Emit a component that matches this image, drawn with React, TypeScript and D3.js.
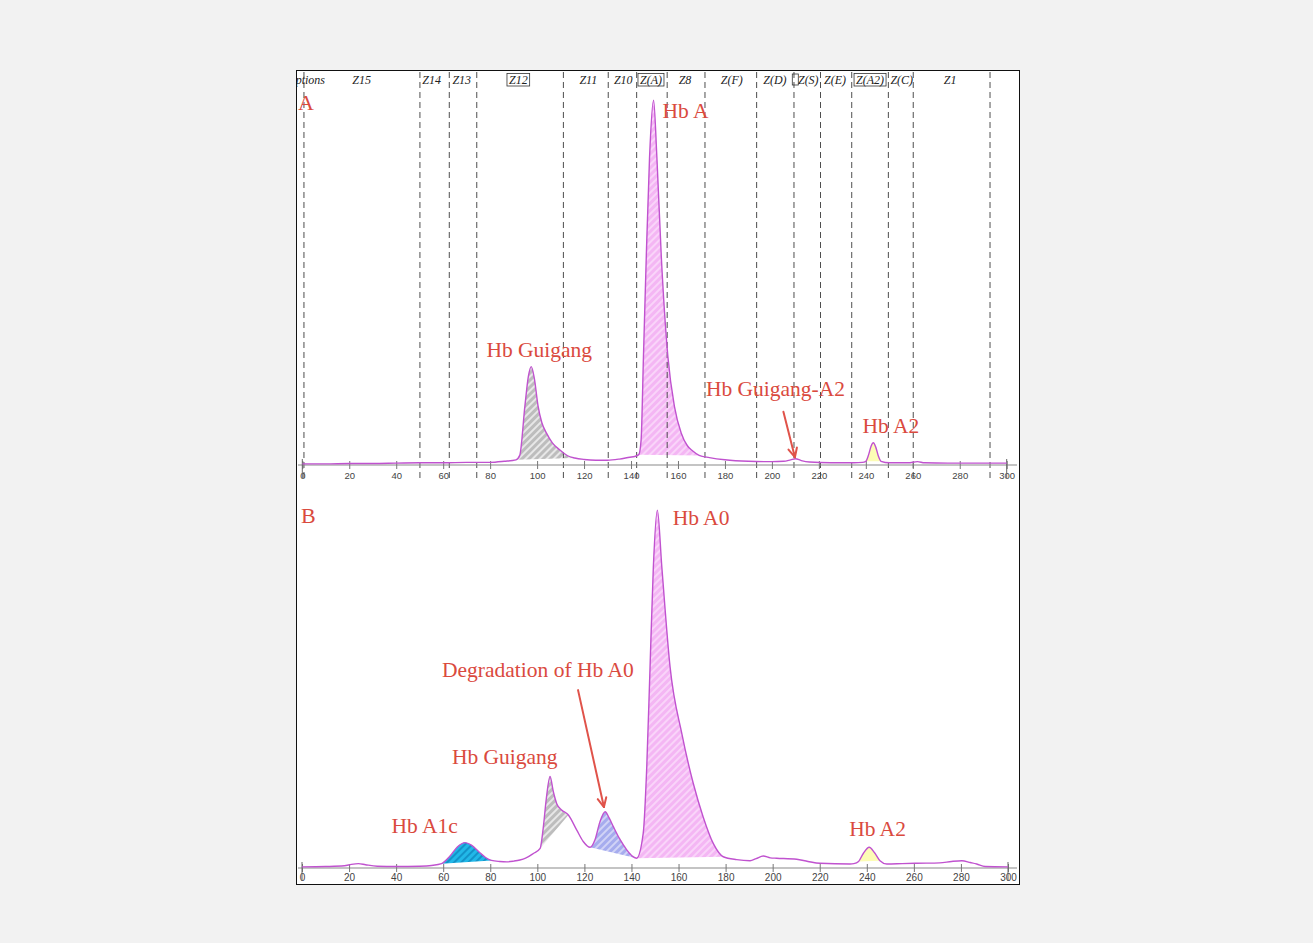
import * as d3 from 'd3';
import { useRef, useEffect } from 'react';

// Panel A: capillary electrophoresis trace (zone position vs. % of main peak)
const timeA = [0, 10, 20, 30, 40, 50, 60, 70, 80, 86, 91, 92.6, 94.8, 96.3, 97.5, 98.8, 100.4, 102, 104, 106.5,
  109.6, 113, 116, 120, 125, 130, 135, 139.5, 141.5, 143.3, 144.3, 145.3, 146.5, 147.9, 149.6, 151, 152.9, 155.7, 158.5, 161.4,
  164, 166.3, 169, 173.4, 180, 190, 200, 205, 208, 210, 212.5, 216, 225, 235, 238.5, 240, 241.2, 242.2, 243.2, 244.2,
  245.3, 246.5, 250, 258, 262, 265, 275, 290, 300];
const signalA = [0.3, 0.3, 0.4, 0.4, 0.5, 0.6, 0.6, 0.7, 0.7, 1.0, 1.4, 2.6, 15.9, 24, 26.6, 23.5, 16, 11.5, 8.6, 6,
  4.1, 2.5, 1.9, 1.5, 1.3, 1.3, 1.6, 2.1, 2.3, 2.8, 6.8, 29.3, 56.3, 83.3, 98.6, 83.3, 56.3, 29.3, 15.8, 8.6,
  5.2, 3.8, 2.6, 2.0, 1.4, 1.0, 0.9, 1.0, 1.4, 1.7, 1.2, 0.8, 0.6, 0.6, 0.7, 1.0, 2.8, 5.0, 6.0, 4.9,
  2.5, 1.0, 0.6, 0.6, 0.9, 0.6, 0.5, 0.5, 0.5];

// Panel B: HPLC trace
const timeB = [0, 10, 18, 21, 24, 27, 32, 40, 50, 55, 59.3, 62.9, 66, 69.3, 72, 75.6, 78, 80.5, 84, 87,
  90, 92.6, 95, 98.3, 101.2, 102.5, 103.8, 105.4, 106.8, 108.2, 110.3, 113.2, 116.7, 119.5, 122.4, 124.5, 126.5, 128.8, 130.5, 132.3,
  135, 138, 140.5, 142.2, 145, 146.5, 147.9, 149.3, 151, 152.9, 156.4, 161.4, 166.3, 170.5, 174.8, 179, 184.7, 190.4, 193, 196,
  199, 201.7, 210.2, 215, 220.1, 232.9, 234.5, 236.5, 238.5, 241, 243.3, 245.6, 248.5, 255, 261.2, 271, 276, 280.4, 284, 286.7,
  290.3, 300];
const signalB = [0.3, 0.4, 0.6, 1.0, 1.2, 0.9, 0.5, 0.4, 0.5, 0.7, 1.2, 3.3, 5.8, 7.0, 6.3, 4.2, 2.9, 2.1, 1.8, 1.7,
  1.9, 2.2, 2.7, 4.0, 5.4, 11, 19, 25.2, 21, 17.8, 16.0, 14.6, 10.5, 7.3, 5.7, 7.8, 12.5, 15.5, 13.8, 11.4,
  8, 5.0, 3.2, 2.7, 9.6, 27.9, 55.4, 82.9, 98.6, 82.9, 55.4, 37.0, 23.2, 14.0, 6.7, 3.1, 2.3, 2.0, 2.6, 3.3,
  2.8, 2.7, 2.4, 1.8, 1.3, 1.1, 1.2, 1.8, 4.0, 5.7, 4.2, 2.0, 1.1, 1.2, 1.3, 1.4, 1.8, 2.0, 1.5, 1.1,
  0.4, 0.3];

// integrated peaks (start / end of each shaded area)
const peakNamesA = ['Hb Guigang', 'Hb A', 'Hb A2'];
const peakFromA = [91, 143.3, 240];
const peakToA = [116, 169, 246.5];
const peakNamesB = ['Hb A1c', 'Hb Guigang', 'Degradation of Hb A0', 'Hb A0', 'Hb A2'];
const peakFromB = [59.3, 101.2, 122.4, 142.2, 236.5];
const peakToB = [80.5, 113.2, 142.2, 179, 245.6];

// electrophoresis zones of panel A
const zoneEdges = [0.7, 50.1, 62.6, 74.3, 111.2, 130.3, 142.4, 155.4, 171.5, 193.5, 209.4, 220.7, 234, 249.6, 260.2, 292.9];
const zoneNames = ['Z15', 'Z14', 'Z13', 'Z12', 'Z11', 'Z10', 'Z(A)', 'Z8', 'Z(F)', 'Z(D)', 'Z(S)', 'Z(E)', 'Z(A2)', 'Z(C)', 'Z1'];
const zoneCenters = [25.3, 55.1, 67.9, 92.0, 121.8, 136.7, 148.5, 163.0, 182.9, 201.3, 215.5, 226.9, 241.8, 255.3, 275.9];
const boxedZones = ['Z12', 'Z(A)', 'Z(A2)'];

const xTicks = [0, 20, 40, 60, 80, 100, 120, 140, 160, 180, 200, 220, 240, 260, 280, 300];

const fills = {
  'Hb Guigang': 'url(#hatch-gray)',
  'Hb A': 'url(#hatch-pink)',
  'Hb A0': 'url(#hatch-pink)',
  'Hb A2': '#fdfdb6',
  'Hb A1c': 'url(#hatch-cyan)',
  'Degradation of Hb A0': 'url(#hatch-blue)',
};

const serif = "'Liberation Serif', 'Times New Roman', serif";
const sans = "'Liberation Sans', Arial, sans-serif";
const red = '#da4a3e';
const trace = '#c052cf';

export default function App() {
  const ref = useRef(null);

  useEffect(() => {
    const svg = d3.select(ref.current);
    svg.selectAll('*').remove();

    const width = 1313;
    const height = 943;
    const frame = { x: 296.5, y: 70.5, w: 723, h: 814 };

    svg.append('rect').attr('width', width).attr('height', height).attr('fill', '#f2f2f2');
    svg.append('rect')
      .attr('x', frame.x).attr('y', frame.y).attr('width', frame.w).attr('height', frame.h)
      .attr('fill', '#fff').attr('stroke', '#111').attr('stroke-width', 1);

    const defs = svg.append('defs');
    defs.append('clipPath').attr('id', 'frame-clip')
      .append('rect').attr('x', frame.x + 0.5).attr('y', frame.y).attr('width', frame.w - 1).attr('height', frame.h);

    // hatch patterns
    const hatch = (id, bg, stripe, w) => {
      const p = defs.append('pattern').attr('id', id)
        .attr('patternUnits', 'userSpaceOnUse').attr('width', 5).attr('height', 5)
        .attr('patternTransform', 'rotate(45)');
      p.append('rect').attr('width', 5).attr('height', 5).attr('fill', bg);
      p.append('line').attr('x1', 1).attr('x2', 1).attr('y1', 0).attr('y2', 5)
        .attr('stroke', stripe).attr('stroke-width', w);
    };
    hatch('hatch-gray', '#bdbdbd', '#ececec', 1.8);
    hatch('hatch-pink', '#f4b6f4', '#fbdcfb', 1.6);
    hatch('hatch-cyan', '#22b8e8', '#0a7fb8', 1.3);
    hatch('hatch-blue', '#a6acee', '#dcdef9', 1.6);

    const drawPanel = (cfg) => {
      const { x, y, time, signal, names, from, to, axisY } = cfg;
      const pts = time.map((t, i) => [t, signal[i]]);
      const line = d3.line().x(d => x(d[0])).y(d => y(d[1])).curve(d3.curveMonotoneX);

      // shaded peaks, closed by a straight drop line
      names.forEach((n, i) => {
        const seg = pts.filter(d => d[0] >= from[i] - 1e-6 && d[0] <= to[i] + 1e-6);
        svg.append('path').attr('d', line(seg) + 'Z').attr('fill', fills[n]).attr('stroke', 'none');
      });

      if (cfg.zones) cfg.zones();

      // x axis
      svg.append('line')
        .attr('x1', 298).attr('x2', 1017).attr('y1', axisY).attr('y2', axisY)
        .attr('stroke', '#8a8a8a').attr('stroke-width', 1.2);
      const ax = svg.append('g').attr('transform', `translate(0,${axisY})`)
        .call(d3.axisBottom(x).tickValues(xTicks).tickSizeInner(4).tickSizeOuter(0).tickPadding(cfg.pad));
      ax.select('.domain').remove();
      ax.selectAll('.tick line').attr('y1', -4).attr('stroke', '#777');
      ax.selectAll('.tick text')
        .attr('font-family', sans).attr('font-size', cfg.tickFont).attr('fill', '#444');
      [0, 300].forEach(v => {
        svg.append('line').attr('x1', x(v)).attr('x2', x(v)).attr('y1', axisY - 6).attr('y2', axisY + 13)
          .attr('stroke', '#666').attr('stroke-width', 1);
      });

      // trace
      svg.append('path').attr('d', line(pts)).attr('fill', 'none')
        .attr('stroke', trace).attr('stroke-width', 1.4);
    };

    const arrow = (x1, y1, x2, y2) => {
      const g = svg.append('g').attr('stroke', '#e0534a').attr('stroke-width', 2).attr('fill', 'none')
        .attr('stroke-linecap', 'round');
      g.append('line').attr('x1', x1).attr('y1', y1).attr('x2', x2).attr('y2', y2);
      const ang = Math.atan2(y2 - y1, x2 - x1);
      const len = 10;
      [-0.45, 0.45].forEach(s => {
        g.append('line').attr('x1', x2).attr('y1', y2)
          .attr('x2', x2 - len * Math.cos(ang + s)).attr('y2', y2 - len * Math.sin(ang + s));
      });
    };

    const note = (txt, px, py, size = 21.5) => {
      svg.append('text').attr('x', px).attr('y', py).text(txt)
        .attr('font-family', serif).attr('font-size', size).attr('fill', red);
    };

    // ---------- Panel A ----------
    const xA = d3.scaleLinear().domain([0, 300]).range([302.3, 1006.7]);
    const yA = d3.scaleLinear().domain([0, 100]).range([465, 95]);

    drawPanel({
      x: xA, y: yA, time: timeA, signal: signalA,
      names: peakNamesA, from: peakFromA, to: peakToA,
      axisY: yA(0), pad: 3, tickFont: 9.5,
      zones: () => {
        svg.append('g').selectAll('line').data(zoneEdges).join('line')
          .attr('x1', d => xA(d)).attr('x2', d => xA(d))
          .attr('y1', 72).attr('y2', 479)
          .attr('stroke', '#3a3a3a').attr('stroke-width', 0.9).attr('stroke-dasharray', '6,4');

        const lab = svg.append('g').attr('font-family', serif).attr('font-style', 'italic')
          .attr('font-size', 12).attr('fill', '#222');
        lab.append('text').attr('x', 287).attr('y', 83.5).text('Options')
          .attr('clip-path', 'url(#frame-clip)');
        zoneNames.forEach((n, i) => {
          const t = lab.append('text').attr('x', xA(zoneCenters[i])).attr('y', 83.5)
            .attr('text-anchor', 'middle').text(n);
          if (boxedZones.includes(n)) {
            const b = t.node().getBBox();
            lab.append('rect').attr('x', b.x - 2).attr('y', 73.5).attr('width', b.width + 4).attr('height', 12.5)
              .attr('fill', 'none').attr('stroke', '#333').attr('stroke-width', 0.8);
          }
          if (n === 'Z(S)') {
            lab.append('rect').attr('x', xA(zoneCenters[i]) - 16).attr('y', 74).attr('width', 6).attr('height', 11)
              .attr('fill', 'none').attr('stroke', '#333').attr('stroke-width', 0.8);
          }
        });
      },
    });

    svg.append('text').attr('x', 298).attr('y', 110).text('A')
      .attr('font-family', serif).attr('font-size', 22).attr('fill', red);
    note('Hb A', xA(153.4), yA(93.8));
    note('Hb Guigang', xA(78.4), yA(29.2));
    note('Hb Guigang-A2', xA(171.9), yA(18.6));
    note('Hb A2', xA(238.6), yA(8.6));
    arrow(xA(204.9), yA(14.4), xA(209.8), yA(2.1));

    // ---------- Panel B ----------
    const xB = d3.scaleLinear().domain([0, 300]).range([302, 1008]);
    const yB = d3.scaleLinear().domain([0, 100]).range([868, 505]);

    drawPanel({
      x: xB, y: yB, time: timeB, signal: signalB,
      names: peakNamesB, from: peakFromB, to: peakToB,
      axisY: yB(0), pad: 2, tickFont: 10,
    });

    svg.append('text').attr('x', 301).attr('y', 523).text('B')
      .attr('font-family', serif).attr('font-size', 22).attr('fill', red);
    note('Hb A0', xB(157.5), yB(94.5));
    note('Degradation of Hb A0', xB(59.5), yB(52.6));
    note('Hb Guigang', xB(63.7), yB(28.7));
    note('Hb A1c', xB(38.0), yB(9.6));
    note('Hb A2', xB(232.5), yB(8.8));
    arrow(xB(117.3), yB(49.0), xB(128.3), yB(16.8));
  }, []);

  return (
    <svg ref={ref} width={1313} height={943}
      style={{ position: 'absolute', left: 0, top: 0, display: 'block' }} />
  );
}
